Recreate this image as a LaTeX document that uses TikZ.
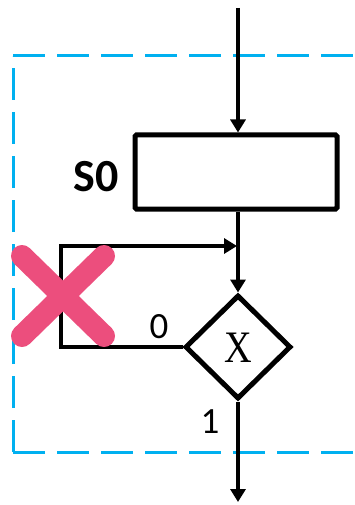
\documentclass[tikz,border=0pt]{standalone}
\usepackage{fontspec}
\newfontfamily\calfont{Carlito}
\newfontfamily\serfont{Liberation Serif}
\usetikzlibrary{arrows.meta,shapes.geometric}
\definecolor{dashblue}{RGB}{0,176,240}
\definecolor{xpink}{RGB}{236,78,125}
\begin{document}
\begin{tikzpicture}[x=1pt,y=-1pt,
  flow/.style={line width=3.8pt},
  arr/.style={-{Triangle[length=13pt,width=15pt]}},
  stepbox/.style={draw,line width=5pt,rounded corners=1.5pt,minimum width=202pt,minimum height=74pt,inner sep=0pt},
  decision/.style={draw,diamond,line width=5pt,minimum width=106pt,minimum height=104pt,inner sep=0pt},
  dashline/.style={draw=dashblue,line width=3pt,dash pattern=on 32pt off 12pt},
  lbl/.style={font=\calfont\fontsize{37}{40}\selectfont,inner sep=0pt},
  crossline/.style={draw=xpink,line width=22pt,line cap=round}]
\useasboundingbox (0,0) rectangle (354,505);
% dashed frame
\draw[dashline] (13,56) -- (372,56);
\draw[dashline] (13,452) -- (13,56);
\draw[dashline] (13,452) -- (372,452);
% nodes
\coordinate (top) at (238,8);
\node[stepbox] (s0) at (236,172) {};
\node[inner sep=0pt,font=\calfont\bfseries\fontsize{46}{50}\selectfont] (s0lbl) at (96,177) {S0};
\node[decision] (d) at (238,347) {};
\node[inner sep=0pt,font=\serfont\fontsize{45}{50}\selectfont,xscale=0.85] (xl) at (238,348) {X};
\node[lbl] (zero) at (159,327) {0};
\node[lbl] (one) at (210,422) {1};
\coordinate (bot) at (238,502);
\coordinate (lc) at (61,347);
\coordinate (lt) at (61,246);
\coordinate (mj) at (237,246);
% connectors
\draw[flow,arr] (top) -- (top |- s0.north);
\draw[flow,arr] (top |- s0.south) -- (d.north);
\draw[flow,arr] (d.south) -- (bot);
\draw[flow,arr] (d.west) -- (lc) -- (lt) -- (mj);
% cross
\draw[crossline] (22,256) -- (104,336);
\draw[crossline] (104,256) -- (22,336);
\end{tikzpicture}
\end{document}
